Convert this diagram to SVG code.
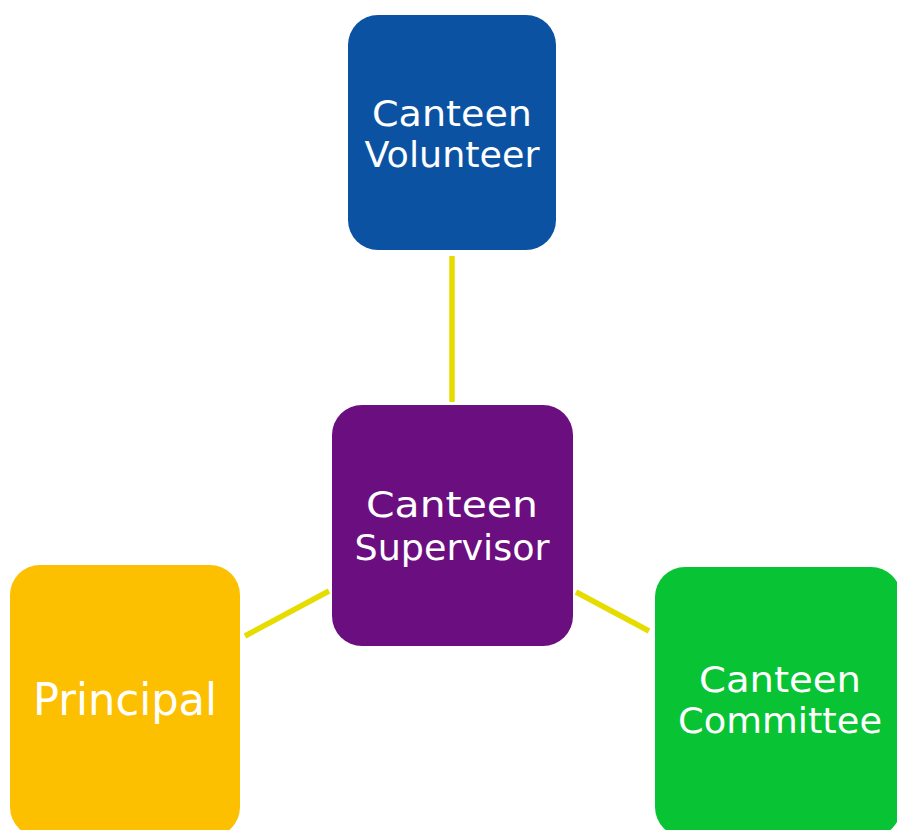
<svg xmlns="http://www.w3.org/2000/svg" width="897" height="830" viewBox="0 0 897 830">
  <style>
    .box { stroke: none; }
    .label { font-family: "DejaVu Sans", "Liberation Sans", sans-serif; fill: #ffffff; text-anchor: middle; font-size: 35px; }
    .link { stroke: #E6DC00; stroke-width: 5.5; fill: none; }
  </style>
  <rect width="897" height="830" fill="#ffffff"/>

  <g id="connectors">
    <line class="link" x1="452" y1="256" x2="452" y2="402"/>
    <line class="link" x1="245" y1="636" x2="329" y2="591"/>
    <line class="link" x1="576" y1="592" x2="649" y2="631"/>
  </g>

  <g id="canteen-volunteer">
    <rect class="box" x="348" y="15" width="208" height="235" rx="30" fill="#0B53A2"/>
    <text class="label" x="452" y="126" textLength="160" lengthAdjust="spacingAndGlyphs">Canteen</text>
    <text class="label" x="452" y="167" textLength="175" lengthAdjust="spacingAndGlyphs">Volunteer</text>
  </g>

  <g id="canteen-supervisor">
    <rect class="box" x="332" y="405" width="241" height="241" rx="30" fill="#6B0E80"/>
    <text class="label" x="452" y="517" textLength="172" lengthAdjust="spacingAndGlyphs">Canteen</text>
    <text class="label" x="452" y="560" textLength="195" lengthAdjust="spacingAndGlyphs">Supervisor</text>
  </g>

  <g id="principal">
    <rect class="box" x="10" y="565" width="230" height="272" rx="30" fill="#FDC000"/>
    <text class="label" x="125" y="715" style="font-size:45px" textLength="184" lengthAdjust="spacingAndGlyphs">Principal</text>
  </g>

  <g id="canteen-committee">
    <rect class="box" x="655" y="567" width="246" height="270" rx="30" fill="#08C434"/>
    <text class="label" x="780" y="692" textLength="162" lengthAdjust="spacingAndGlyphs">Canteen</text>
    <text class="label" x="780" y="733" textLength="204" lengthAdjust="spacingAndGlyphs">Committee</text>
  </g>
</svg>
